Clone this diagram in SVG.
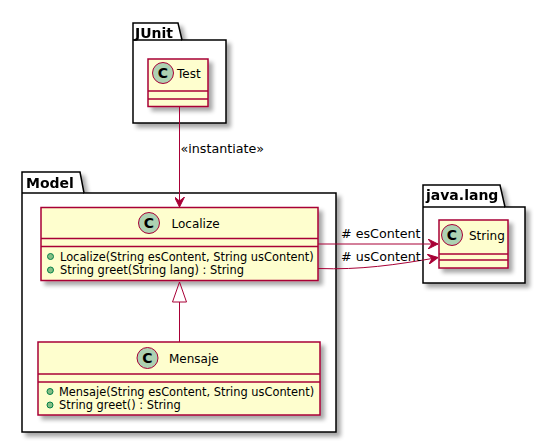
<svg xmlns="http://www.w3.org/2000/svg" width="546" height="443" viewBox="0 0 546 443">
<defs>
<filter id="sh" x="-10%" y="-10%" width="130%" height="130%">
<feGaussianBlur in="SourceAlpha" stdDeviation="2"/>
<feOffset dx="4" dy="4" result="b"/>
<feComponentTransfer><feFuncA type="linear" slope="0.35"/></feComponentTransfer>
<feMerge><feMergeNode/><feMergeNode in="SourceGraphic"/></feMerge>
</filter>
<marker id="arr" viewBox="0 0 10 10" refX="10" refY="5" markerWidth="10" markerHeight="10" markerUnits="userSpaceOnUse" orient="auto">
<path d="M0,0 L10,5 L0,10 L4,5 Z" fill="#A80036" stroke="#A80036" stroke-width="1"/>
</marker>
</defs>
<style>
.pkg{fill:#FFFFFF;stroke:#000000;stroke-width:1.5}
.cls{fill:#FEFECE;stroke:#A80036;stroke-width:1.5}
.sep{stroke:#A80036;stroke-width:1.5}
.circ{fill:#ADD1B2;stroke:#A80036;stroke-width:1}
.cl{font-family:"DejaVu Sans",sans-serif;font-size:14px;font-weight:bold;fill:#000}
.pt{font-family:"DejaVu Sans",sans-serif;font-size:14px;font-weight:bold;fill:#000}
.cn{font-family:"DejaVu Sans",sans-serif;font-size:12px;fill:#000}
.mb{font-family:"DejaVu Sans",sans-serif;font-size:11.4px;fill:#000}
.lb{font-family:"DejaVu Sans",sans-serif;font-size:12.7px;fill:#000}
.dot{fill:#84BE84;stroke:#038048;stroke-width:1}
.edge{fill:none;stroke:#A80036;stroke-width:1}
</style>

<g id="pkg-JUnit" filter="url(#sh)">
<path class="pkg" d="M133,40 L133,23 L178,23 L182,40 L226,40 L226,123 L133,123 Z"/>
<line x1="133" y1="40" x2="182" y2="40" stroke="#000" stroke-width="1.5"/>
<text class="pt" x="135" y="38">JUnit</text>
</g>
<g id="pkg-Model" filter="url(#sh)">
<path class="pkg" d="M22,193 L22,172 L80,172 L84,193 L336,193 L336,432 L22,432 Z"/>
<line x1="22" y1="193" x2="84" y2="193" stroke="#000" stroke-width="1.5"/>
<text class="pt" x="26" y="188">Model</text>
</g>
<g id="pkg-java.lang" filter="url(#sh)">
<path class="pkg" d="M423,207 L423,185 L500,185 L505,207 L525,207 L525,283 L423,283 Z"/>
<line x1="423" y1="207" x2="505" y2="207" stroke="#000" stroke-width="1.5"/>
<text class="pt" x="426" y="200">java.lang</text>
</g>

<g id="Test">
<rect class="cls" x="148" y="59" width="60" height="47.5" filter="url(#sh)"/>
<line class="sep" x1="148" y1="91" x2="208" y2="91"/>
<line class="sep" x1="148" y1="99" x2="208" y2="99"/>
<circle class="circ" cx="163" cy="73" r="10.5"/>
<text class="cl" x="163" y="78" text-anchor="middle">C</text>
<text class="cn" x="177" y="77.5">Test</text>
</g>

<g id="Localize">
<rect class="cls" x="41" y="207.5" width="277" height="73" filter="url(#sh)"/>
<line class="sep" x1="41" y1="238.5" x2="318" y2="238.5"/>
<line class="sep" x1="41" y1="246.5" x2="318" y2="246.5"/>
<circle class="circ" cx="149" cy="223" r="10.5"/>
<text class="cl" x="149" y="228" text-anchor="middle">C</text>
<text class="cn" x="171.5" y="227.5">Localize</text>
<circle class="dot" cx="50.5" cy="256.5" r="3"/>
<text class="mb" x="60" y="260.5">Localize(String esContent, String usContent)</text>
<circle class="dot" cx="50.5" cy="270" r="3"/>
<text class="mb" x="60" y="274">String greet(String lang) : String</text>
</g>

<g id="Mensaje">
<rect class="cls" x="38" y="342" width="282" height="73" filter="url(#sh)"/>
<line class="sep" x1="38" y1="374" x2="320" y2="374"/>
<line class="sep" x1="38" y1="382" x2="320" y2="382"/>
<circle class="circ" cx="147.5" cy="358" r="10.5"/>
<text class="cl" x="147.5" y="363" text-anchor="middle">C</text>
<text class="cn" x="169" y="362.5">Mensaje</text>
<circle class="dot" cx="50" cy="391.5" r="3"/>
<text class="mb" x="59" y="395.5">Mensaje(String esContent, String usContent)</text>
<circle class="dot" cx="50" cy="405" r="3"/>
<text class="mb" x="59" y="409">String greet() : String</text>
</g>

<g id="String">
<rect class="cls" x="439" y="220" width="69" height="48" filter="url(#sh)"/>
<line class="sep" x1="439" y1="254" x2="508" y2="254"/>
<line class="sep" x1="439" y1="260" x2="508" y2="260"/>
<circle class="circ" cx="452" cy="235" r="10.5"/>
<text class="cl" x="452" y="240" text-anchor="middle">C</text>
<text class="cn" x="469" y="239.5">String</text>
</g>

<g id="connectors">
<path class="edge" d="M179.5,107 L179.5,207" marker-end="url(#arr)"/>
<text class="lb" x="180.5" y="153">«instantiate»</text>
<path class="edge" d="M179.5,342 L179.5,302"/>
<path d="M179.5,282 L186.5,302 L172.5,302 Z" fill="none" stroke="#A80036" stroke-width="1"/>
<path class="edge" d="M318,244 L438,244" marker-end="url(#arr)"/>
<text class="lb" x="341" y="238"># esContent</text>
<path class="edge" d="M318,268.5 C360,270 395,265 438,257.5" marker-end="url(#arr)"/>
<text class="lb" x="341" y="261"># usContent</text>
</g>
</svg>
